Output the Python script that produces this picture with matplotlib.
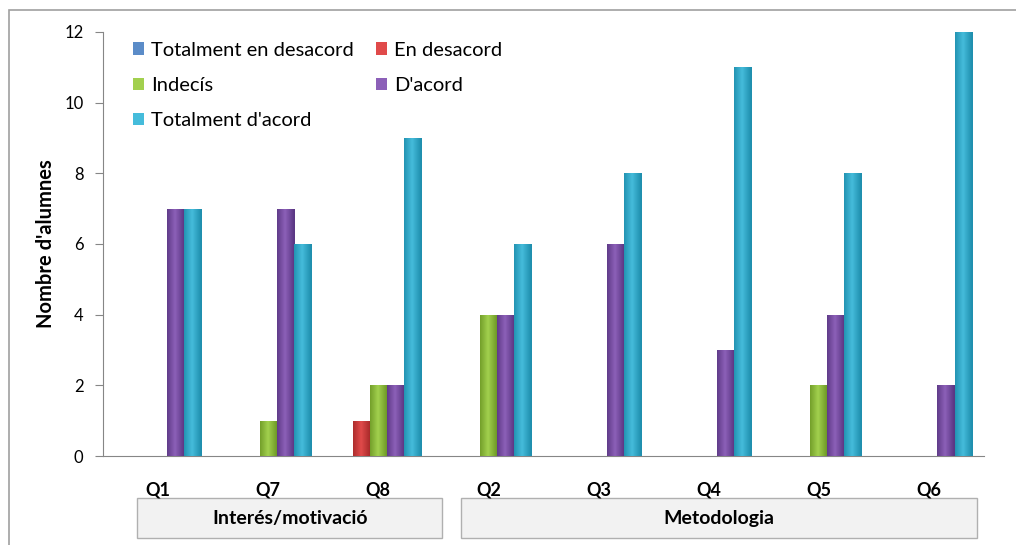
import matplotlib.pyplot as plt
import numpy as np
from matplotlib.colors import LinearSegmentedColormap
from matplotlib.patches import Rectangle

plt.rcParams["font.family"] = ["Lato", "DejaVu Sans"]

questions = ["Q1", "Q7", "Q8", "Q2", "Q3", "Q4", "Q5", "Q6"]
series_names = ["Totalment en desacord", "En desacord", "Indecís", "D'acord", "Totalment d'acord"]
tot_desacord = [0, 0, 0, 0, 0, 0, 0, 0]
en_desacord = [0, 0, 1, 0, 0, 0, 0, 0]
indecis = [0, 1, 2, 4, 0, 0, 2, 0]
d_acord = [7, 7, 2, 4, 6, 3, 4, 2]
tot_acord = [7, 6, 9, 6, 8, 11, 8, 12]
groups = ["Interés/motivació", "Metodologia"]
group_spans = [(-0.19, 2.58), (2.75, 7.44)]

# (edge, middle) colours for the bevelled look
colors = [
    ("#3A6699", "#5B8CC8"),
    ("#A82A2A", "#E04A4A"),
    ("#6E9A26", "#A2D04E"),
    ("#5B3784", "#8C60B8"),
    ("#1F8FAE", "#45BCDB"),
]
values = [tot_desacord, en_desacord, indecis, d_acord, tot_acord]

fig = plt.figure(figsize=(10.16, 5.45), dpi=100)
ax = fig.add_axes([0.1014, 0.1633, 0.8671, 0.7780])

x = np.arange(len(questions))
width = 0.155
handles = []
grad = np.linspace(0, 1, 64)
grad = np.vstack([1 - np.abs(grad - 0.45) * 2] * 2)
for k, (name, vals, (c_edge, c_mid)) in enumerate(zip(series_names, values, colors)):
    offs = (k - 2) * width
    bars = ax.bar(x + offs, vals, width=width, color=c_mid, label=name, zorder=2)
    cmap = LinearSegmentedColormap.from_list(name, [c_edge, c_mid])
    for b in bars:
        h = b.get_height()
        if h <= 0:
            continue
        bx = b.get_x()
        im = ax.imshow(grad, extent=[bx, bx + width, 0, h], aspect="auto",
                       cmap=cmap, vmin=0, vmax=1, zorder=3)
        im.set_clip_path(b)
    handles.append(bars)

ax.set_xlim(-0.5, 7.5)
ax.set_ylim(0, 12)
ax.set_yticks(range(0, 13, 2))
ax.set_xticks(x)
ax.set_xticklabels(questions, fontsize=13, fontweight="bold")
ax.tick_params(axis="x", length=0, pad=18)
ax.tick_params(axis="y", length=6, color="#868686", labelsize=12, pad=8)
for s in ["top", "right"]:
    ax.spines[s].set_visible(False)
for s in ["left", "bottom"]:
    ax.spines[s].set_color("#868686")
ax.set_ylabel("Nombre d'alumnes", fontsize=14.5, fontweight="bold", labelpad=6)

order = [0, 2, 4, 1, 3]
leg = ax.legend([handles[i] for i in order], [series_names[i] for i in order],
                ncol=2, loc="upper left", bbox_to_anchor=(0.013, 1.02), frameon=False,
                fontsize=14.5, handlelength=0.55, handleheight=0.55, handletextpad=0.35,
                labelspacing=0.9, columnspacing=1.1)

for name, (a, b) in zip(groups, group_spans):
    ax.add_patch(Rectangle((a, -1.2), b - a, -1.12, facecolor="#F2F2F2",
                           edgecolor="#B0B0B0", lw=1, clip_on=False,
                           transform=ax.transData))
    ax.text((a + b) / 2, -1.76, name, ha="center", va="center",
            fontsize=14, fontweight="bold", clip_on=False)

fig.add_artist(Rectangle((9 / 1016, -0.05), 1.1, 1 - 10 / 545 + 0.05,
                         transform=fig.transFigure, fill=False,
                         edgecolor="#A0A0A0", lw=1.2))

fig.savefig("out.png", dpi=100)
